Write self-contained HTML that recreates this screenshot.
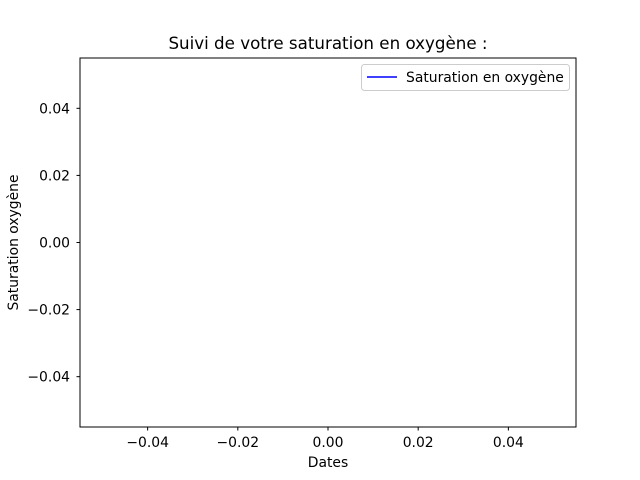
<!DOCTYPE html>
<html><head><meta charset="utf-8"><style>
html,body{margin:0;padding:0;background:#fff;}
svg{display:block;font-family:"DejaVu Sans","Liberation Sans",sans-serif;}
</style></head><body>
<svg id="chart" width="640" height="480">
<text x="328" y="49" font-size="16.7" text-anchor="middle">Suivi de votre saturation en oxygène :</text>
<rect x="80" y="58" width="496" height="369" fill="#fff" stroke="#000" stroke-width="1"/>
<g id="xticks"></g>
<g id="yticks"></g>
<text x="328" y="467" font-size="13.9" text-anchor="middle">Dates</text>
<text x="18" y="242.5" font-size="13.9" text-anchor="middle" transform="rotate(-90 18 242.5)">Saturation oxygène</text>
<path id="series" fill="none" stroke="#0000ff" stroke-width="1.5"/>
<g>
<rect x="361.5" y="64.5" width="208" height="26" rx="3" fill="#fff" stroke="#ccc"/>
<line x1="367" y1="77" x2="397" y2="77" stroke="#0000ff" stroke-width="1.5"/>
<text x="406" y="82" font-size="13.9">Saturation en oxygène</text>
</g>
</svg>
<script>
const dates = [];
const saturation = [];
const xTickValues = [-0.04, -0.02, 0, 0.02, 0.04];
const yTickValues = [-0.04, -0.02, 0, 0.02, 0.04];
const xTickLabels = ["\u22120.04", "\u22120.02", "0.00", "0.02", "0.04"];
const yTickLabels = ["\u22120.04", "\u22120.02", "0.00", "0.02", "0.04"];
const NS = "http://www.w3.org/2000/svg";
const xMin = -0.055, xMax = 0.055, yMin = -0.055, yMax = 0.055;
const L = 80, R = 576, T = 58, B = 427;
function xs(v){return L + (v - xMin) / (xMax - xMin) * (R - L);}
function ys(v){return B - (v - yMin) / (yMax - yMin) * (B - T);}
const gx = document.getElementById('xticks');
xTickValues.forEach((v, i) => {
  const x = xs(v);
  const t = document.createElementNS(NS, 'line');
  t.setAttribute('x1', x); t.setAttribute('x2', x); t.setAttribute('y1', B); t.setAttribute('y2', B + 3.5);
  t.setAttribute('stroke', '#000');
  
  
  gx.appendChild(t);
  const tx = document.createElementNS(NS, 'text');
  tx.setAttribute('x', x); tx.setAttribute('y', B + 20); tx.setAttribute('font-size', '13.9'); tx.setAttribute('text-anchor', 'middle');
  tx.textContent = xTickLabels[i];
  
  
  gx.appendChild(tx);
});
const gy = document.getElementById('yticks');
yTickValues.forEach((v, i) => {
  const y = ys(v);
  const t = document.createElementNS(NS, 'line');
  t.setAttribute('x1', L - 3.5); t.setAttribute('x2', L); t.setAttribute('y1', y); t.setAttribute('y2', y);
  t.setAttribute('stroke', '#000');
  
  
  gy.appendChild(t);
  const tx = document.createElementNS(NS, 'text');
  tx.setAttribute('x', L - 10); tx.setAttribute('y', y + 5); tx.setAttribute('font-size', '13.9'); tx.setAttribute('text-anchor', 'end');
  tx.textContent = yTickLabels[i];
  
  
  gy.appendChild(tx);
});
let d = '';
saturation.forEach((v, i) => { d += (i ? 'L' : 'M') + xs(dates[i]) + ' ' + ys(v); });
if (d) document.getElementById('series').setAttribute('d', d);
</script>
</body></html>
